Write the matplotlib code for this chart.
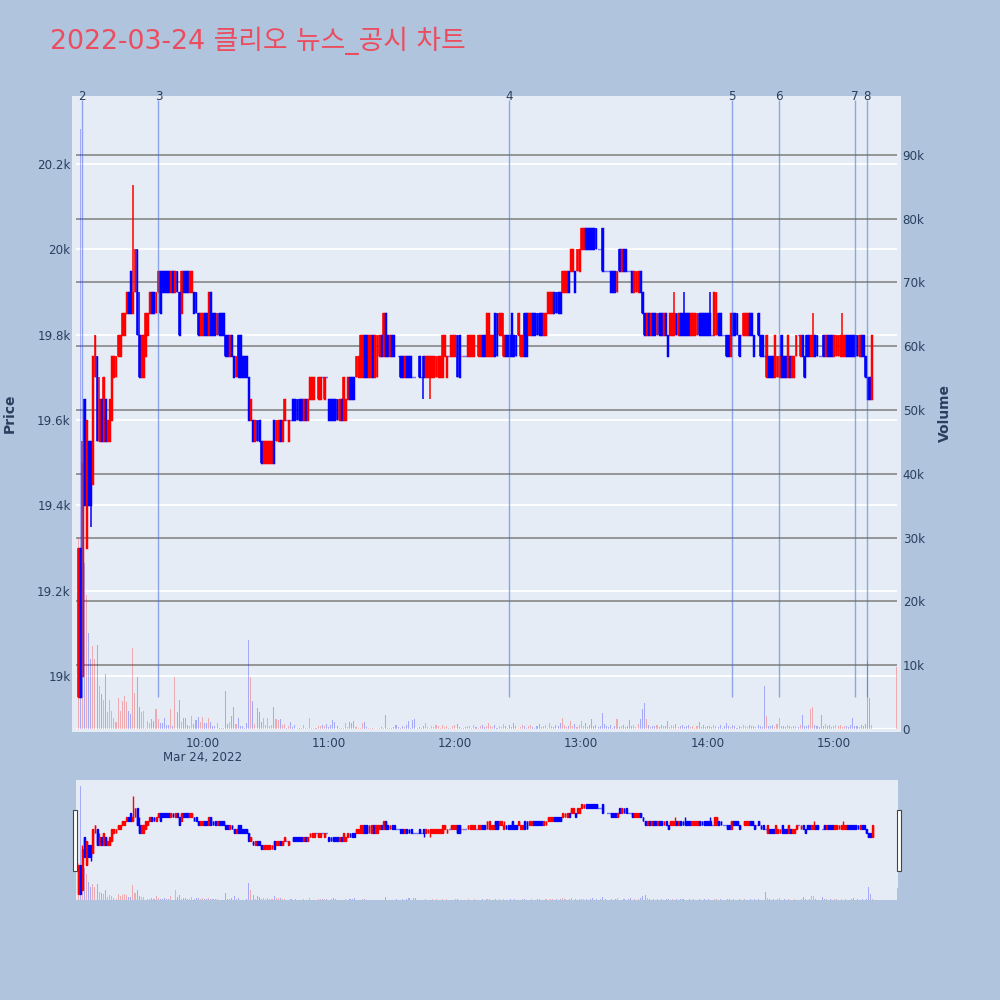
import matplotlib
matplotlib.use("Agg")
import matplotlib.pyplot as plt
import matplotlib.dates as mdates
import pandas as pd
from matplotlib.transforms import blended_transform_factory
from matplotlib.patches import Rectangle

plt.rcParams['font.family'] = ['DejaVu Sans', 'Noto Sans CJK KR']

# ---------------- data ----------------
title = "2022-03-24 클리오 뉴스_공시 차트"
session_start = pd.Timestamp("2022-03-24 09:00")
session_end = pd.Timestamp("2022-03-24 15:30")
# minutes after 09:00 for each 1-minute candle (continuous session + closing auction)
minute_offsets = list(range(1, 379)) + [390]

opens = [
    18950, 19300, 19000, 19650, 19300, 19550, 19550, 19450, 19700, 19750,
    19550, 19650, 19550, 19650, 19550, 19550, 19600, 19700, 19700, 19750,
    19750, 19800, 19800, 19850, 19900, 19950, 19850, 19900, 20000, 19800,
    19700, 19700, 19750, 19800, 19850, 19900, 19900, 19850, 19900, 19950,
    19950, 19950, 19950, 19950, 19900, 19950, 19900, 19950, 19900, 19850,
    19950, 19950, 19950, 19900, 19900, 19900, 19900, 19850, 19800, 19800,
    19850, 19850, 19800, 19900, 19850, 19850, 19800, 19850, 19850, 19850,
    19800, 19800, 19750, 19800, 19750, 19700, 19800, 19800, 19750, 19750,
    19750, 19700, 19600, 19600, 19550, 19600, 19600, 19550, 19500, 19500,
    19500, 19500, 19500, 19600, 19550, 19550, 19600, 19550, 19600, 19600,
    19550, 19600, 19650, 19650, 19650, 19650, 19650, 19600, 19650, 19600,
    19650, 19650, 19650, 19700, 19650, 19650, 19700, 19650, 19700, 19650,
    19650, 19650, 19650, 19650, 19600, 19650, 19600, 19600, 19650, 19700,
    19700, 19700, 19700, 19700, 19700, 19700, 19800, 19800, 19700, 19700,
    19800, 19700, 19700, 19750, 19800, 19750, 19850, 19800, 19750, 19800,
    19800, 19750, 19750, 19750, 19750, 19700, 19750, 19750, 19750, 19700,
    19700, 19700, 19750, 19700, 19750, 19700, 19700, 19700, 19700, 19700,
    19700, 19700, 19700, 19700, 19750, 19700, 19750, 19750, 19750, 19750,
    19800, 19800, 19750, 19750, 19750, 19750, 19750, 19750, 19750, 19750,
    19750, 19750, 19800, 19800, 19750, 19750, 19750, 19750, 19850, 19850,
    19800, 19800, 19750, 19800, 19800, 19800, 19850, 19800, 19800, 19800,
    19750, 19750, 19850, 19850, 19800, 19800, 19850, 19850, 19850, 19850,
    19850, 19800, 19800, 19850, 19850, 19850, 19900, 19900, 19900, 19900,
    19900, 19900, 19900, 19950, 19950, 19950, 19950, 19950, 19950, 20000,
    20000, 20050, 20050, 20050, 20050, 20050, 20050, 20000, 20000, 20050,
    19950, 19950, 19950, 19950, 19950, 19950, 19900, 20000, 19950, 20000,
    20000, 19950, 19950, 19950, 19900, 19900, 19900, 19950, 19900, 19850,
    19800, 19850, 19800, 19850, 19850, 19800, 19850, 19850, 19800, 19850,
    19800, 19800, 19800, 19800, 19850, 19800, 19850, 19850, 19850, 19850,
    19850, 19800, 19800, 19800, 19800, 19850, 19850, 19850, 19850, 19850,
    19850, 19800, 19800, 19800, 19850, 19850, 19800, 19800, 19800, 19800,
    19750, 19850, 19850, 19850, 19800, 19800, 19800, 19800, 19800, 19850,
    19850, 19800, 19800, 19850, 19800, 19800, 19750, 19700, 19750, 19750,
    19750, 19700, 19700, 19700, 19800, 19750, 19750, 19700, 19750, 19700,
    19700, 19750, 19800, 19750, 19800, 19750, 19800, 19800, 19750, 19750,
    19800, 19800, 19750, 19750, 19800, 19750, 19800, 19800, 19800, 19750,
    19750, 19750, 19750, 19750, 19750, 19800, 19800, 19800, 19800, 19800,
    19800, 19750, 19800, 19800, 19750, 19700, 19700, 19650,
    19850,
]
closes = [
    19300, 18950, 19500, 19400, 19600, 19400, 19400, 19750, 19800, 19550,
    19650, 19550, 19700, 19550, 19600, 19650, 19750, 19750, 19750, 19800,
    19800, 19850, 19850, 19900, 19850, 19850, 19900, 20000, 19800, 19700,
    19800, 19800, 19850, 19850, 19900, 19850, 19850, 19900, 19950, 19850,
    19900, 19900, 19900, 19900, 19950, 19900, 19950, 19900, 19800, 19950,
    19900, 19900, 19900, 19950, 19950, 19850, 19850, 19800, 19850, 19850,
    19800, 19800, 19900, 19800, 19800, 19800, 19850, 19800, 19800, 19800,
    19750, 19750, 19800, 19750, 19700, 19750, 19700, 19700, 19700, 19700,
    19700, 19600, 19650, 19550, 19600, 19550, 19550, 19500, 19550, 19550,
    19550, 19550, 19550, 19500, 19600, 19600, 19550, 19600, 19650, 19600,
    19600, 19600, 19600, 19600, 19600, 19600, 19600, 19650, 19600, 19650,
    19700, 19700, 19700, 19700, 19700, 19700, 19700, 19700, 19700, 19600,
    19600, 19600, 19600, 19600, 19650, 19600, 19700, 19650, 19700, 19650,
    19650, 19650, 19750, 19750, 19800, 19800, 19700, 19700, 19800, 19800,
    19700, 19800, 19800, 19800, 19750, 19850, 19750, 19750, 19800, 19750,
    19750, 19750, 19750, 19700, 19700, 19750, 19700, 19700, 19700, 19700,
    19700, 19700, 19700, 19700, 19700, 19750, 19750, 19750, 19750, 19750,
    19750, 19750, 19750, 19800, 19800, 19750, 19750, 19800, 19800, 19800,
    19700, 19700, 19750, 19750, 19750, 19800, 19800, 19800, 19800, 19750,
    19800, 19800, 19750, 19750, 19850, 19850, 19800, 19800, 19750, 19750,
    19850, 19850, 19800, 19750, 19750, 19750, 19750, 19750, 19750, 19850,
    19800, 19800, 19750, 19750, 19850, 19850, 19800, 19800, 19800, 19800,
    19800, 19850, 19850, 19900, 19900, 19900, 19850, 19850, 19850, 19850,
    19950, 19950, 19950, 19900, 20000, 20000, 19900, 20000, 20000, 20050,
    20050, 20000, 20000, 20000, 20000, 20000, 20000, 20000, 20000, 19950,
    19950, 19950, 19950, 19900, 19900, 19900, 19950, 19950, 20000, 19950,
    19950, 19950, 19950, 19900, 19950, 19950, 19950, 19900, 19850, 19800,
    19850, 19800, 19850, 19800, 19800, 19850, 19800, 19800, 19850, 19800,
    19750, 19850, 19850, 19850, 19800, 19850, 19800, 19800, 19800, 19800,
    19800, 19850, 19850, 19850, 19850, 19800, 19800, 19800, 19800, 19800,
    19800, 19800, 19900, 19900, 19800, 19800, 19800, 19800, 19750, 19750,
    19850, 19800, 19800, 19800, 19750, 19800, 19850, 19850, 19850, 19800,
    19800, 19750, 19800, 19800, 19750, 19750, 19750, 19800, 19700, 19700,
    19700, 19800, 19750, 19750, 19700, 19700, 19700, 19800, 19700, 19750,
    19750, 19800, 19800, 19800, 19750, 19700, 19750, 19750, 19800, 19800,
    19750, 19750, 19750, 19750, 19750, 19800, 19750, 19750, 19750, 19800,
    19800, 19800, 19800, 19800, 19800, 19750, 19750, 19750, 19750, 19750,
    19750, 19800, 19750, 19750, 19700, 19650, 19650, 19800,
    19850,
]
# wicks that reach beyond the candle body (keyed by minute after 09:00)
wick_highs = {3: 19550, 11: 19700, 27: 20150, 30: 19900, 203: 19850,
              284: 19900, 289: 19900, 301: 19900, 350: 19850, 364: 19850}
wick_lows = {7: 19350, 165: 19650, 168: 19650}

volumes = [
    30000, 94000, 33000, 26000, 21000, 15000, 10900, 13000, 11000, 13200,
    6700, 5500, 4600, 8600, 2700, 4500, 2900, 1800, 1100, 4800,
    2900, 4400, 5200, 4200, 2800, 2300, 12700, 5700, 8200, 3400,
    2600, 2800, 200, 1200, 1000, 1500, 1200, 3100, 1500, 900,
    900, 1800, 600, 600, 3200, 400, 8200, 2700, 4500, 1100,
    1800, 1800, 600, 500, 2100, 800, 1400, 1900, 1100, 1900,
    1000, 900, 1800, 1100, 500, 500, 900, 200, 200, 200,
    5900, 800, 1100, 2000, 3500, 800, 1800, 400, 400, 100,
    900, 13900, 8100, 4400, 800, 3300, 2700, 1100, 1700, 600,
    1700, 500, 700, 3500, 1500, 1400, 1500, 600, 800, 100,
    400, 1100, 300, 600, 100, 100, 200, 600, 100, 200,
    1800, 100, 100, 200, 500, 500, 700, 500, 800, 300,
    600, 1400, 1100, 400, 100, 100, 200, 900, 300, 1100,
    1000, 1300, 300, 100, 200, 900, 1100, 300, 200, 100,
    100, 200, 200, 100, 300, 200, 2200, 100, 200, 100,
    300, 600, 300, 200, 500, 300, 700, 1300, 200, 1400,
    1500, 200, 300, 200, 400, 900, 300, 200, 500, 300,
    600, 400, 200, 700, 300, 500, 200, 100, 400, 600,
    800, 300, 200, 100, 300, 500, 400, 200, 600, 300,
    200, 400, 700, 300, 500, 900, 400, 300, 600, 200,
    500, 300, 800, 400, 200, 600, 300, 900, 400, 200,
    300, 700, 500, 200, 400, 600, 300, 200, 500, 800,
    300, 400, 600, 200, 900, 500, 300, 700, 400, 1000,
    1700, 600, 300, 500, 1300, 400, 800, 300, 600, 1200,
    500, 900, 300, 600, 1500, 400, 700, 300, 500, 2500,
    800, 400, 300, 600, 200, 500, 1600, 300, 400, 700,
    300, 500, 1400, 400, 600, 300, 800, 1500, 3100, 4100,
    1500, 600, 300, 500, 400, 700, 300, 600, 400, 500,
    1200, 300, 600, 400, 800, 300, 500, 700, 300, 400,
    600, 300, 500, 200, 400, 1100, 300, 600, 300, 500,
    400, 300, 700, 500, 300, 600, 200, 400, 900, 500,
    300, 600, 400, 200, 500, 300, 700, 400, 300, 600,
    400, 500, 300, 600, 400, 300, 6800, 2000, 500, 400,
    600, 300, 800, 1800, 400, 500, 300, 600, 400, 300,
    500, 400, 300, 600, 2200, 500, 400, 700, 3100, 3400,
    600, 400, 300, 2200, 500, 800, 400, 600, 300, 500,
    700, 400, 600, 300, 500, 400, 300, 600, 1800, 400,
    500, 300, 600, 400, 800, 10600, 4800, 600,
    9700,
]

news_labels = ["2", "3", "4", "5", "6", "7", "8"]
news_times = ["09:02:45", "09:39:10", "12:25:40", "14:11:30", "14:34:00", "15:10:10", "15:15:50"]
news_line_bottom = 18950

price_ticks = [19000, 19200, 19400, 19600, 19800, 20000, 20200]
price_ticklabels = ["19k", "19.2k", "19.4k", "19.6k", "19.8k", "20k", "20.2k"]
volume_ticks = [0, 10000, 20000, 30000, 40000, 50000, 60000, 70000, 80000, 90000]
volume_ticklabels = ["0", "10k", "20k", "30k", "40k", "50k", "60k", "70k", "80k", "90k"]
time_ticks = ["10:00", "11:00", "12:00", "13:00", "14:00", "15:00"]
date_label = "Mar 24, 2022"

price_range = (18876, 20350)
volume_range = (0, 98600)

# ---------------- styling ----------------
PAPER = "#B0C4DE"
PLOT_BG = "#E5ECF6"
TXT = "#2a3f5f"
UP = "#FF0000"
DOWN = "#0000FF"
UP_VOL = (1.0, 0.0, 0.0, 0.28)
DOWN_VOL = (0.0, 0.0, 1.0, 0.28)
NEWS_COL = (65 / 255, 105 / 255, 225 / 255, 0.55)

times = [session_start + pd.Timedelta(minutes=m) for m in minute_offsets]
x = mdates.date2num(times)
one_min = 1.0 / 1440.0

highs, lows, colors, vcolors = [], [], [], []
prev_close = None
for m, o, c in zip(minute_offsets, opens, closes):
    highs.append(wick_highs.get(m, max(o, c)))
    lows.append(wick_lows.get(m, min(o, c)))
    if c > o:
        up = True
    elif c < o:
        up = False
    else:
        up = prev_close is not None and c > prev_close
    colors.append(UP if up else DOWN)
    vcolors.append(UP_VOL if up else DOWN_VOL)
    prev_close = c
bodies = [c - o for o, c in zip(opens, closes)]

W, H = 1000, 1000
fig = plt.figure(figsize=(10, 10), dpi=100, facecolor=PAPER)


def fx(px):
    return px / W


def fy(py):
    return 1 - py / H


# plot background (slightly larger than the data area)
bg_ax = fig.add_axes([fx(72), fy(732), fx(901) - fx(72), fy(96) - fy(732)], zorder=-5)
bg_ax.set_facecolor(PLOT_BG)
bg_ax.set_axis_off()
bg_ax.add_patch(Rectangle((0, 0), 1, 1, transform=bg_ax.transAxes,
                          facecolor=PLOT_BG, edgecolor="none"))

ax_v = fig.add_axes([fx(76), fy(729), fx(897) - fx(76), fy(100) - fy(729)])
ax_v.set_facecolor(PLOT_BG)
ax_p = ax_v.twinx()
ax_p.patch.set_visible(False)

xlim = (mdates.date2num(session_start), mdates.date2num(session_end))
for a in (ax_v, ax_p):
    a.set_xlim(*xlim)
    for s in a.spines.values():
        s.set_visible(False)
ax_p.set_ylim(*price_range)
ax_v.set_ylim(*volume_range)

# grid lines (price grid drawn on the volume axes so that everything is under the traces)
blend = blended_transform_factory(ax_v.transAxes, ax_p.transData)
for p in price_ticks:
    ax_v.plot([0, 1], [p, p], transform=blend, color="white", lw=1.3, zorder=0.5)
for v in volume_ticks[1:]:
    ax_v.axhline(v, color="#8e8e8e", lw=1.3, zorder=0.6)
ax_v.axhline(0, color="white", lw=1.6, zorder=0.6)

# volume bars
ax_v.bar(x, volumes, width=0.5 * one_min, color=vcolors, linewidth=0, zorder=1)

# candles
ax_p.vlines(x, lows, highs, colors=colors, lw=1.1, zorder=2)
ax_p.bar(x, bodies, bottom=opens, width=0.42 * one_min, color=colors,
         edgecolor=colors, linewidth=1.05, zorder=2)

# news lines
news_x = mdates.date2num([pd.Timestamp("2022-03-24 " + t) for t in news_times])
ax_p.vlines(news_x, news_line_bottom, price_range[1], colors=[NEWS_COL], lw=1.0, zorder=3)
lab_tr = blended_transform_factory(ax_p.transData, ax_p.transAxes)
for nx, lab in zip(news_x, news_labels):
    ax_p.text(nx, 1.0053, lab, transform=lab_tr, ha="center", va="center",
              fontsize=8.6, color=TXT)

# axes ticks
ax_p.yaxis.tick_left()
ax_v.yaxis.tick_right()
ax_p.set_yticks(price_ticks, price_ticklabels)
ax_v.set_yticks(volume_ticks, volume_ticklabels)
ax_p.tick_params(axis="y", length=0, pad=3.8, labelsize=8.6, labelcolor=TXT)
ax_v.tick_params(axis="y", length=0, pad=4.1, labelsize=8.6, labelcolor=TXT)
tick_x = mdates.date2num([pd.Timestamp("2022-03-24 " + t) for t in time_ticks])
ax_v.set_xticks(tick_x, time_ticks)
ax_v.tick_params(axis="x", length=0, pad=5.5, labelsize=8.6, labelcolor=TXT)
ax_p.tick_params(axis="x", length=0, labelbottom=False)
ax_v.text(tick_x[0], fy(757), date_label,
          transform=blended_transform_factory(ax_v.transData, fig.transFigure),
          ha="center", va="center", fontsize=8.6, color=TXT)

# axis titles
fig.text(fx(10), fy(413), "Price", rotation=90, ha="center", va="center",
         fontsize=10, fontweight="bold", color=TXT)
fig.text(fx(945), fy(413), "Volume", rotation=90, ha="center", va="center",
         fontsize=10, fontweight="bold", color=TXT)

# title
fig.text(fx(50), fy(41), title, ha="left", va="center", fontsize=19.3, color="#EC4D5E")

# ---------------- range slider ----------------
ax_s = fig.add_axes([fx(76), fy(900), fx(898) - fx(76), fy(780) - fy(900)])
ax_s.set_facecolor(PLOT_BG)
ax_s2 = ax_s.twinx()
ax_s2.patch.set_visible(False)
for a in (ax_s, ax_s2):
    a.set_xlim(*xlim)
    a.set_xticks([])
    a.set_yticks([])
    for s in a.spines.values():
        s.set_visible(False)
ax_s.set_ylim(*volume_range)
ax_s2.set_ylim(*price_range)
ax_s.bar(x, volumes, width=0.5 * one_min, color=vcolors, linewidth=0, zorder=1)
ax_s2.vlines(x, lows, highs, colors=colors, lw=1.0, zorder=2)
ax_s2.bar(x, bodies, bottom=opens, width=0.42 * one_min, color=colors,
          edgecolor=colors, linewidth=1.0, zorder=2)

for hx in (73.3, 896.7):
    fig.patches.append(Rectangle((fx(hx), fy(871)), fx(4), fy(810) - fy(871),
                                 transform=fig.transFigure, facecolor="white",
                                 edgecolor="#444444", lw=0.8, zorder=5))

fig.savefig("out.png", dpi=100, facecolor=PAPER)
